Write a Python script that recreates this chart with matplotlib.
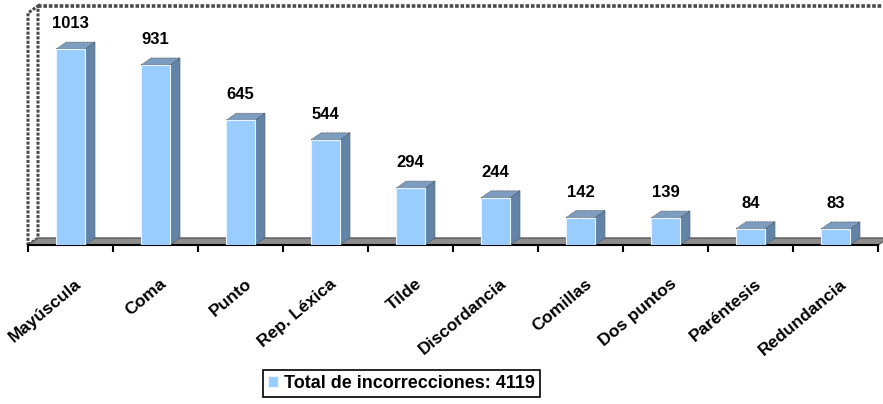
import matplotlib
matplotlib.use("Agg")
import matplotlib.pyplot as plt
from matplotlib.patches import Polygon
import numpy as np

plt.rcParams['font.family'] = ['Liberation Sans', 'DejaVu Sans']

categories = ["Mayúscula", "Coma", "Punto", "Rep. Léxica", "Tilde",
              "Discordancia", "Comillas", "Dos puntos", "Paréntesis", "Redundancia"]
values = [1013, 931, 645, 544, 294, 244, 142, 139, 84, 83]
legend_label = "Total de incorrecciones: {}".format(sum(values))

FRONT = "#99CCFF"
SIDE = "#6384A6"
TOP = "#7C9DC0"

W, H = 883, 404
fig = plt.figure(figsize=(W / 100, H / 100), dpi=100)
ax = fig.add_axes([28 / W, (H - 245) / H, 850 / W, 232 / H])
ymax = 1200
ax.set_xlim(-0.5, len(categories) - 0.5)
ax.set_ylim(0, ymax)

DX = 10 / 85.0
DY = 7 / (232 / ymax)
bw = 0.34
n = len(categories)

# left wall
wall = Polygon([(-0.5, 0), (-0.5 + DX, DY), (-0.5 + DX, ymax + DY), (-0.5, ymax)],
               closed=True, facecolor="white", edgecolor="#4A4A4A",
               linewidth=2.2, linestyle=(0, (1, 0.5)), clip_on=False, zorder=1)
ax.add_patch(wall)
# back wall top line
ax.plot([-0.5 + DX, n - 0.5 + DX], [ymax + DY, ymax + DY], color="#4A4A4A",
        linewidth=2.6, linestyle=(0, (1, 0.5)), clip_on=False, zorder=1)
# floor
floor = Polygon([(-0.5, 0), (n - 0.5, 0), (n - 0.5 + DX, DY), (-0.5 + DX, DY)],
                closed=True, facecolor="#8C8C8C", edgecolor="#5A5A5A",
                linewidth=1, clip_on=False, zorder=2)
ax.add_patch(floor)

x = np.arange(n)
bars = ax.bar(x, values, width=bw, color=FRONT, edgecolor="#E8F4FF",
              linewidth=0.8, zorder=5, label=legend_label)
for xi, v in zip(x, values):
    l, r = xi - bw / 2, xi + bw / 2
    side = Polygon([(r, 0), (r + DX, DY), (r + DX, v + DY), (r, v)], closed=True,
                   facecolor=SIDE, edgecolor="#4A6580", linewidth=0.5, zorder=4)
    top = Polygon([(l, v), (r, v), (r + DX, v + DY), (l + DX, v + DY)], closed=True,
                  facecolor=TOP, edgecolor="#555555", linewidth=0.6,
                  linestyle=(0, (1, 0.8)), zorder=4)
    ax.add_patch(side)
    ax.add_patch(top)
    ax.annotate(str(v), xy=(xi, v), xytext=(0, 15.1), textcoords="offset points",
                ha="center", va="baseline", fontsize=12, fontweight="bold",
                zorder=6)

for xi, c in zip(x, categories):
    ax.annotate(c, xy=(xi, 0), xytext=(6.5, -26.6), textcoords="offset points",
                ha="right", va="center", rotation=40, rotation_mode="anchor",
                fontsize=12.5, fontweight="bold", annotation_clip=False)

for s in ["top", "right", "left"]:
    ax.spines[s].set_visible(False)
ax.spines["bottom"].set_linewidth(1.5)
ax.spines["bottom"].set_zorder(3)
ax.set_xticks(np.arange(-0.5, n, 1.0))
ax.set_xticklabels([])
ax.tick_params(axis="x", length=5, width=1.5, direction="out")
ax.set_yticks([])
ax.patch.set_alpha(0)

leg = fig.legend(handles=[bars], labels=[legend_label], loc="center",
                 bbox_to_anchor=(401.5 / W, (H - 383.5) / H),
                 prop={"size": 13, "weight": "bold"}, fancybox=False,
                 edgecolor="black", framealpha=1, handlelength=0.55,
                 handleheight=0.55, handletextpad=0.35, borderpad=0.25,
                 borderaxespad=0)
leg.get_frame().set_linewidth(1.2)

fig.savefig("out.png", dpi=100)
